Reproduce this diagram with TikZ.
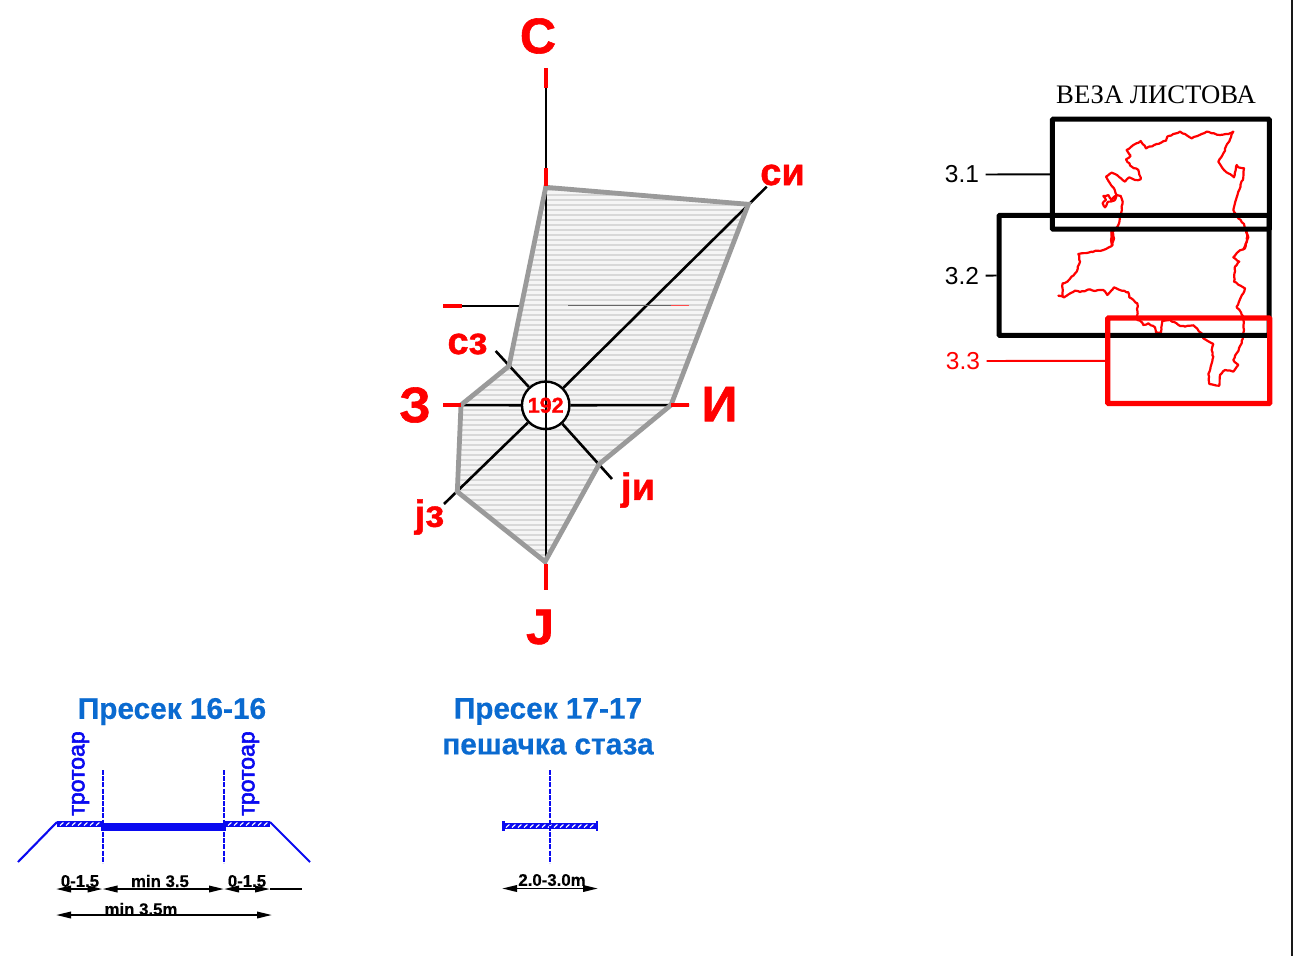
\documentclass[tikz,border=0pt]{standalone}
\usepackage{fontspec}
\setmainfont{Liberation Sans}
\newfontfamily\tmsfont{Liberation Serif}
\newfontfamily\heavyfont[FakeBold=1.2]{Liberation Sans Bold}
\newfontfamily\semifont[FakeBold=0.5]{Liberation Sans Bold}
\newfontfamily\medfont[FakeBold=2.5]{Liberation Sans}
\usetikzlibrary{arrows.meta,decorations.pathmorphing}
\definecolor{headblue}{HTML}{0A6AD0}
\definecolor{roadblue}{HTML}{0A0AF0}
\definecolor{polygray}{HTML}{9A9A9A}
\definecolor{stripe}{HTML}{D8D8D8}
\newcommand{\fs}[1]{\fontsize{#1}{#1}\selectfont}
\tikzset{
  x=1pt,y=-1pt,
  compass/.style={text=red,font=\fs{50}\heavyfont,inner sep=0pt},
  subcompass/.style={text=red,font=\fs{38}\heavyfont,inner sep=0pt},
  ray/.style={draw=black,line width=2.6pt},
  redtick/.style={draw=red,line width=3.8pt},
  sheet/.style={draw=black,line width=5pt,rounded corners=0.8pt,inner sep=0pt},
  sheetred/.style={sheet,draw=red,line width=5.2pt},
  sheetlabel/.style={font=\fs{24.5},inner ysep=0pt,inner xsep=6.5pt},
  heading/.style={text=headblue,font=\fs{29.8}\semifont,inner sep=0pt},
  walkword/.style={text=roadblue,font=\fs{23}\medfont,inner sep=0pt,rotate=90},
  dimlabel/.style={font=\fs{16.8}\semifont,inner sep=0pt},
  axisdash/.style={draw=roadblue,line width=2pt,dash pattern=on 5pt off 1.2pt},
  slope/.style={draw=roadblue,line width=2.1pt},
  dimline/.style={draw=black,line width=1.9pt},
  dimboth/.style={dimline,{Triangle[length=15pt,width=6.5pt]}-{Triangle[length=15pt,width=6.5pt]}},
  border/.style={red,line width=2.2pt,line join=round,line cap=round,decorate,decoration={random steps,segment length=2.6pt,amplitude=0.55pt}},
}
\pgfmathsetseed{7}
\newcommand{\walk}[3]{% x1, x2, y centre
  \fill[roadblue] (#1,#3-3) rectangle (#2,#3+3);
  \foreach \hx in {0,1,...,16}{
    \pgfmathsetmacro{\xa}{#1+3+\hx*6}
    \pgfmathparse{\xa+3.6<#2?1:0}
    \ifnum\pgfmathresult=1
      \draw[white,line width=1.1pt] (\xa,#3+1.5) -- (\xa+3.4,#3-1.5);
    \fi
  }
}
\begin{document}
\begin{tikzpicture}
\useasboundingbox (0,0) rectangle (1293,956);
\fill[white] (0,0) rectangle (1293,956);
\fill[black!90] (1290.8,0) rectangle (1293,956);

% ---- wind rose -------------------------------------------------
\coordinate (pN)  at (545.7,187.3);
\coordinate (pNE) at (748.3,204.3);
\coordinate (pE)  at (671,405);
\coordinate (pSE) at (599.3,464);
\coordinate (pS)  at (545,561.7);
\coordinate (pSW) at (457.3,491.7);
\coordinate (pW)  at (461,405);
\coordinate (pNW) at (509,366);
\fill[white!96!black] (pN)--(pNE)--(pE)--(pSE)--(pS)--(pSW)--(pW)--(pNW)--cycle;
\begin{scope}
\clip (pN)--(pNE)--(pE)--(pSE)--(pS)--(pSW)--(pW)--(pNW)--cycle;
\foreach \hy in {190,195,...,565}{
  \draw[stripe,line width=2.2pt] (440,\hy) -- (760,\hy);
}
\end{scope}

\coordinate (eN) at (546,68);
\coordinate (eS) at (546,590);
\coordinate (eW) at (443,405);
\coordinate (eE) at (689,405);
\coordinate (eNE) at (766.7,186.7);
\coordinate (eSW) at (444,504);
\coordinate (eSE) at (612,479);
\coordinate (eNW) at (495.7,351);
\coordinate (mL) at (443,305.7);
\coordinate (mLi) at (462,305.7);
\coordinate (mLe) at (519,305.7);
\coordinate (mR) at (568,305.7);
\coordinate (mRi) at (671,305.7);
\coordinate (mRe) at (689,305.7);

\node[circle,draw=black,line width=2.4pt,fill=white,minimum size=47.5pt,inner sep=0pt] (c192) at (545.7,405.3) {};
\draw[ray] (eN) -- (eS);
\draw[ray] (c192) -- (eW);
\draw[ray] (c192) -- (eE);
\draw[ray] (c192) -- (eNE);
\draw[ray] (c192) -- (eSW);
\draw[ray] (c192) -- (eSE);
\draw[ray] (c192) -- (eNW);
\draw[black,line width=2pt] (mLi) -- (mLe);
\draw[black!60,line width=1.4pt] (mR) -- (mRi);
\draw[polygray,line width=4.8pt,line join=miter] (pN)--(pNE)--(pE)--(pSE)--(pS)--(pSW)--(pW)--(pNW)--cycle;
\draw[redtick] (546,68) -- (546,87.5);
\draw[redtick] (546,168) -- (546,186);
\draw[redtick] (546,563.5) -- (eS);
\draw[redtick] (eW) -- (461,405);
\draw[redtick] (671,405) -- (eE);
\draw[redtick] (mL) -- (mLi);
\draw[red!70,line width=1.4pt] (mRi) -- (mRe);
\node[text=red,font=\fs{21.5}\heavyfont,inner sep=0pt] (t192) at (c192) {192};
\node[compass] (nC) at (538,36) {С};
\node[compass] (nZ) at (415,405) {З};
\node[compass] (nI) at (719.5,404) {И};
\node[compass] (nJ) at (540,627) {J};
\node[subcompass] (nSI) at (782.5,175) {си};
\node[subcompass] (nSZ) at (467.5,344) {сз};
\node[subcompass] (nJI) at (638,490) {jи};
\node[subcompass] (nJZ) at (429.5,517) {jз};

% ---- sheet index ------------------------------------------------
\node[font=\fs{26.7}\tmsfont,inner sep=0pt] (vtitle) at (1156,94.7) {ВЕЗА ЛИСТОВА};
\draw[border,shift={(1090,120)},x=0.3333pt,y=-0.3333pt]
 (430,35)--(415,42)--(390,45)--(372,40)--(350,35)--(335,42)--(305,55)--(285,42)--(270,35)--(250,42)--(232,50)--(228,62)--(200,72)--(168,85)--(152,63)--(130,75)--(110,90)--(122,107)--(108,118)--(125,140)--(145,150)--(152,178)--(135,180)--(118,172)--(105,185)--(75,162)--(65,158)--(48,170)--(60,190)--(72,205)--(80,225)--(65,240)--(55,225)--(40,228)--(48,240)--(38,250)--(45,262)--(55,245)--(75,240)--(80,225)--(92,228)--(98,245)--(92,285)--(85,315)--(68,335)--(72,355)--(65,375)--(65,330);
\draw[border,shift={(1050,230)},x=0.3333pt,y=-0.3333pt]
 (185,5)--(190,20)--(183,30)--(188,45)--(160,60)--(125,65)--(85,72)--(90,95)--(80,125)--(52,155)--(38,160)--(38,198)--(25,197)--(42,202)--(75,182)--(90,186)--(120,178)--(135,183)--(160,180)--(172,195)--(192,172)--(215,182)--(235,187)--(238,202)--(262,220)--(262,270)--(270,272)--(280,285)--(295,280)--(315,292)--(318,307)--(333,307)--(337,272)--(360,270)--(385,285)--(405,290)--(430,286)--(455,310)--(460,325)--(490,342)--(485,360)--(490,380)--(482,410)--(475,432)--(478,462)--(508,467)--(510,435)--(525,420)--(550,425)--(565,405)--(550,390)--(575,340)--(582,300)--(580,260)--(560,230)--(580,190)--(585,175)--(552,155)--(555,110)--(568,95)--(550,82)--(565,65)--(585,55)--(592,20)--(590,5);
\draw[border,shift={(1090,120)},x=0.3333pt,y=-0.3333pt]
 (460,388)--(475,352)--(462,312)--(445,295)--(430,270)--(445,215)--(460,172)--(462,145)--(445,142)--(440,135)--(432,172)--(415,160)--(402,150)--(385,125)--(400,100)--(430,35);
\node[sheet,minimum width=217pt,minimum height=110pt] (s31) at (1160.8,174.2) {};
\node[sheet,minimum width=270pt,minimum height=120pt] (s32) at (1134,275.3) {};
\node[sheetred,minimum width=162pt,minimum height=85.5pt] (s33) at (1188.7,360.7) {};
\node[sheetlabel] (l31) at (962,174.5) {3.1};
\node[sheetlabel] (l32) at (962,275.6) {3.2};
\node[sheetlabel,text=red] (l33) at (963,361) {3.3};
\draw[black,line width=1.9pt] (l31) -- (s31);
\draw[black,line width=1.9pt] (l32) -- (s32);
\draw[red,line width=1.9pt] (l33) -- (s33);

% ---- section 16-16 ----------------------------------------------
\node[heading] (h16) at (172,711.5) {Пресек 16-16};
\node[walkword] (w1) at (80.5,773.5) {тротоар};
\node[walkword] (w2) at (250.5,773.5) {тротоар};
\coordinate (aL1) at (102.5,770);
\coordinate (aL2) at (102.5,863);
\coordinate (aR1) at (224,770);
\coordinate (aR2) at (224,863);
\draw[axisdash] (aL1) -- (aL2);
\draw[axisdash] (aR1) -- (aR2);
\walk{57}{102}{824}
\walk{225}{270}{824}
\fill[roadblue] (101,822.5) rectangle (226,830.5);
\coordinate (sL0) at (57,822);
\coordinate (sL1) at (18,862);
\coordinate (sR0) at (270,822);
\coordinate (sR1) at (310,862);
\draw[slope] (sL0) -- (sL1);
\draw[slope] (sR0) -- (sR1);
\coordinate (d0) at (56,889);
\coordinate (d1) at (102.5,889);
\coordinate (d2) at (224,889);
\coordinate (d3) at (270,889);
\coordinate (d4) at (302,889);
\coordinate (e0) at (56,915);
\coordinate (e1) at (272,915);
\draw[dimboth] (d0) -- (d1);
\draw[dimboth] (d1) -- (d2);
\draw[dimboth] (d2) -- (d3);
\draw[dimline] (d3) -- (d4);
\draw[dimboth] (e0) -- (e1);
\node[dimlabel] (t1) at (80,881) {0-1.5};
\node[dimlabel] (t2) at (160,881) {min 3.5};
\node[dimlabel] (t3) at (247,881) {0-1.5};
\node[dimlabel] (t4) at (141,909) {min 3.5m};

% ---- section 17-17 ----------------------------------------------
\node[heading] (h17) at (548,711.5) {Пресек 17-17};
\node[heading] (h17b) at (548,746.5) {пешачка стаза};
\walk{503}{597}{826}
\fill[roadblue] (502,821) rectangle (505,831);
\fill[roadblue] (595.5,821) rectangle (598,831);
\coordinate (a17a) at (550,770);
\coordinate (a17b) at (550,863);
\draw[axisdash] (a17a) -- (a17b);
\coordinate (f0) at (502,888.5);
\coordinate (f1) at (598,888.5);
\draw[dimboth] (f0) -- (f1);
\node[dimlabel] (t5) at (552,880) {2.0-3.0m};
\end{tikzpicture}
\end{document}
